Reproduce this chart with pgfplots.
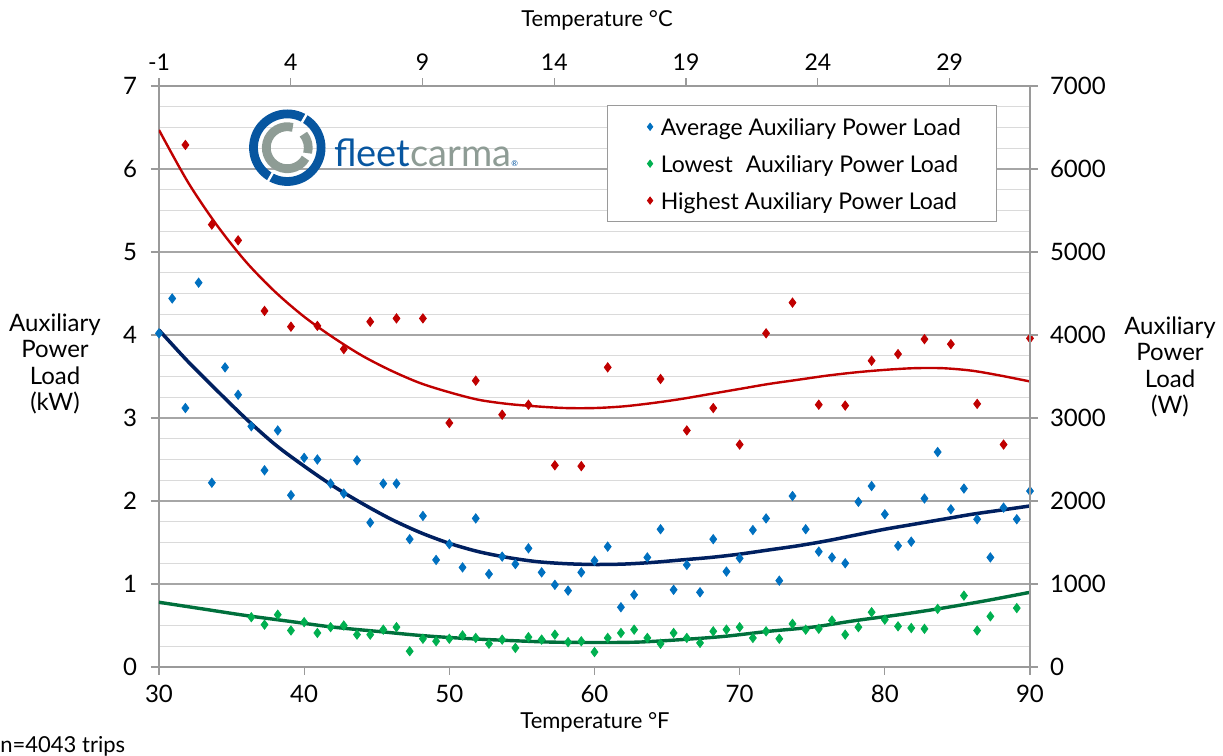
\documentclass[border=0pt]{standalone}
\usepackage{pgfplots}
\pgfplotsset{compat=1.18}
\usepackage{fontspec}
\setmainfont{Lato}
\definecolor{avgblue}{HTML}{0070C0}
\definecolor{lowgreen}{HTML}{00B050}
\definecolor{highred}{HTML}{C00000}
\definecolor{trendblue}{HTML}{002060}
\definecolor{trendgreen}{HTML}{00703C}
\definecolor{trendred}{HTML}{C00000}
\definecolor{axgray}{HTML}{9A9A9A}
\definecolor{majgrid}{HTML}{A6A6A6}
\definecolor{mingrid}{HTML}{DADADA}
\definecolor{fcblue}{HTML}{0756A0}
\definecolor{fcgray}{HTML}{8E9C95}

\pgfplotstableread{
x y
30.00 4.02
30.91 4.44
31.82 3.12
32.73 4.63
33.64 2.22
34.55 3.61
35.45 3.28
36.36 2.90
37.27 2.37
38.18 2.85
39.09 2.07
40.00 2.52
40.91 2.50
41.82 2.21
42.73 2.09
43.64 2.49
44.55 1.74
45.45 2.21
46.36 2.21
47.27 1.54
48.18 1.82
49.09 1.29
50.00 1.48
50.91 1.20
51.82 1.79
52.73 1.12
53.64 1.33
54.55 1.24
55.45 1.43
56.36 1.14
57.27 0.99
58.18 0.92
59.09 1.14
60.00 1.28
60.91 1.45
61.82 0.72
62.73 0.87
63.64 1.32
64.55 1.66
65.45 0.93
66.36 1.23
67.27 0.90
68.18 1.54
69.09 1.15
70.00 1.31
70.91 1.65
71.82 1.79
72.73 1.04
73.64 2.06
74.55 1.66
75.45 1.39
76.36 1.32
77.27 1.25
78.18 1.99
79.09 2.18
80.00 1.84
80.91 1.46
81.82 1.51
82.73 2.03
83.64 2.59
84.55 1.90
85.45 2.15
86.36 1.78
87.27 1.32
88.18 1.92
89.09 1.78
90.00 2.12
}\avgdata

\pgfplotstableread{
x y
36.36 0.60
37.27 0.51
38.18 0.63
39.09 0.44
40.00 0.54
40.91 0.41
41.82 0.48
42.73 0.50
43.64 0.39
44.55 0.39
45.45 0.45
46.36 0.48
47.27 0.19
48.18 0.34
49.09 0.31
50.00 0.34
50.91 0.38
51.82 0.35
52.73 0.28
53.64 0.33
54.55 0.23
55.45 0.36
56.36 0.33
57.27 0.39
58.18 0.30
59.09 0.31
60.00 0.18
60.91 0.35
61.82 0.41
62.73 0.45
63.64 0.35
64.55 0.28
65.45 0.41
66.36 0.35
67.27 0.29
68.18 0.43
69.09 0.45
70.00 0.48
70.91 0.35
71.82 0.43
72.73 0.34
73.64 0.52
74.55 0.45
75.45 0.46
76.36 0.56
77.27 0.39
78.18 0.48
79.09 0.66
80.00 0.57
80.91 0.49
81.82 0.47
82.73 0.46
83.64 0.70
85.45 0.86
86.36 0.44
87.27 0.61
89.09 0.71
}\lowdata

\pgfplotstableread{
x y
31.82 6.29
33.64 5.33
35.45 5.14
37.27 4.29
39.09 4.10
40.91 4.11
42.73 3.83
44.55 4.16
46.36 4.20
48.18 4.20
50.00 2.94
51.82 3.45
53.64 3.04
55.45 3.16
57.27 2.43
59.09 2.42
60.91 3.61
64.55 3.47
66.36 2.85
68.18 3.12
70.00 2.68
71.82 4.02
73.64 4.39
75.45 3.16
77.27 3.15
79.09 3.69
80.91 3.77
82.73 3.95
84.55 3.89
86.36 3.17
88.18 2.68
90.00 3.96
}\highdata

\pgfplotstableread{
x y
30 4.06
32 3.68
34 3.33
36 2.99
38 2.68
40 2.42
42 2.18
44 1.97
46 1.78
48 1.62
50 1.49
52 1.39
54 1.32
56 1.27
58 1.245
60 1.235
62 1.24
64 1.26
66 1.29
68 1.32
70 1.36
72 1.41
74 1.46
76 1.52
78 1.59
80 1.66
82 1.72
84 1.78
86 1.84
88 1.89
90 1.94
}\avgtrend

\pgfplotstableread{
x y
30 0.78
33 0.70
36 0.62
39 0.55
42 0.48
45 0.43
48 0.38
51 0.345
54 0.32
57 0.30
60 0.295
63 0.30
66 0.33
69 0.37
72 0.43
75 0.48
78 0.56
81 0.63
84 0.71
87 0.80
90 0.90
}\lowtrend

\pgfplotstableread{
x y
30 6.47
32 5.84
34 5.32
36 4.88
38 4.52
40 4.22
42 3.97
44 3.75
46 3.57
48 3.42
50 3.31
52 3.22
54 3.17
56 3.14
58 3.12
60 3.12
62 3.14
64 3.18
66 3.23
68 3.29
70 3.35
72 3.41
74 3.46
76 3.51
78 3.55
80 3.58
82 3.60
84 3.60
86 3.57
88 3.51
90 3.44
}\hightrend

\begin{document}
\begin{tikzpicture}
\useasboundingbox (-79.5pt,-44.5pt) rectangle (532pt,333.5pt);
\pgfplotsset{
  common/.style={
    scale only axis, width=435.5pt, height=290.5pt,
    axis line style={axgray, line width=0.6pt},
    tick align=outside, major tick length=4pt, minor tick length=0pt,
    tick style={axgray, line width=0.6pt},
    /pgf/number format/assume math mode=true,
    /pgf/number format/1000 sep={},
  }
}
\begin{axis}[common,
  xmin=30, xmax=90, ymin=0, ymax=7,
  xtick={30,40,...,90}, ytick={0,1,...,7},
  minor y tick num=3,
  ymajorgrids, yminorgrids,
  major grid style={majgrid, line width=0.6pt},
  minor grid style={mingrid, line width=0.6pt},
  xtick pos=left, ytick pos=left,
  ticklabel style={font=\fontsize{12}{14}\selectfont, text=black},
  xticklabel style={yshift=-1.5pt},
  yticklabel style={xshift=-3.5pt},
  mark size=2.3pt,
  legend style={at={(0.514,0.967)}, anchor=north west, draw=axgray, fill=white,
    inner xsep=16pt, inner ysep=3pt, row sep=3.25pt, column sep=2pt,
    nodes={inner sep=2pt, text height=10.1pt, text depth=1.1pt},
    font=\fontsize{11.5}{13.5}\selectfont, text=black},
  legend cell align=left,
  legend image code/.code={%
    \path[draw=none, fill=none] (0pt,-1pt) rectangle (1pt,1pt);
    \draw[mark repeat=2, mark phase=2, #1, mark size=1.8pt]
      plot coordinates {(0pt,0pt) (5.5pt,0pt)};},
]
\addplot[only marks, mark=diamond*, color=avgblue] table {\avgdata};
\addlegendentry{Average Auxiliary Power Load}
\addplot[only marks, mark=diamond*, color=lowgreen] table {\lowdata};
\addlegendentry{Lowest\hspace{3.5pt} Auxiliary Power Load}
\addplot[only marks, mark=diamond*, color=highred] table {\highdata};
\addlegendentry{Highest Auxiliary Power Load}
\addplot[forget plot, no marks, smooth, trendblue, line width=1.75pt] table {\avgtrend};
\addplot[forget plot, no marks, smooth, trendgreen, line width=1.7pt] table {\lowtrend};
\addplot[forget plot, no marks, smooth, trendred, line width=1.2pt] table {\hightrend};
\end{axis}
\begin{axis}[common,
  xmin=30, xmax=90, ymin=0, ymax=7000,
  hide x axis, axis y line*=right,
  ytick={0,1000,...,7000}, scaled y ticks=false,
  ticklabel style={font=\fontsize{12}{14}\selectfont, text=black},
  yticklabel style={xshift=2.5pt},
]
\addplot[draw=none] coordinates {(30,0)};
\end{axis}
\begin{axis}[common,
  xmin=-1, xmax=32.05, ymin=0, ymax=7,
  hide y axis, axis x line*=top,
  xtick={-1,4,...,29},
  ticklabel style={font=\fontsize{11.5}{13}\selectfont, text=black},
]
\addplot[draw=none] coordinates {(0,0)};
\end{axis}
% logo
\begin{scope}[shift={(64.15pt,259.65pt)}]
  \draw[fcblue, line width=4.4pt] (0,0) circle (16.9pt);
  \draw[white, line width=1.2pt] (60:14.5pt) -- (60:19.5pt);
  \draw[white, line width=1.2pt] (240:14.5pt) -- (240:19.5pt);
  \draw[fcgray, line width=4.4pt] (75:10.5pt) arc (75:330:10.5pt);
  \draw[fcgray, line width=4.4pt] (345:10.5pt) arc (-15:40:10.5pt);
\end{scope}
\node[anchor=base west, inner sep=0pt, font=\fontsize{19}{21}\selectfont] at (87.5pt,250.2pt)
  {\textcolor{fcblue}{fleet}\textcolor{fcgray}{carma}\textcolor{fcblue}{\fontsize{4}{4}\selectfont\textregistered}};
% labels
\node[font=\fontsize{11}{13}\selectfont] at (219pt,323.5pt) {Temperature °C};
\node[font=\fontsize{11}{13}\selectfont] at (218pt,-27.5pt) {Temperature °F};
\node[anchor=west, inner sep=0pt, font=\fontsize{11}{13}\selectfont] at (-79.5pt,-39.5pt) {n=4043 trips};
\node[align=center, font=\fontsize{12}{13.25}\selectfont] at (-52pt,151.5pt) {Auxiliary\\Power\\Load\\(kW)};
\node[align=center, font=\fontsize{12}{13.25}\selectfont] at (505.5pt,150pt) {Auxiliary\\Power\\Load\\(W)};
\end{tikzpicture}
\end{document}
